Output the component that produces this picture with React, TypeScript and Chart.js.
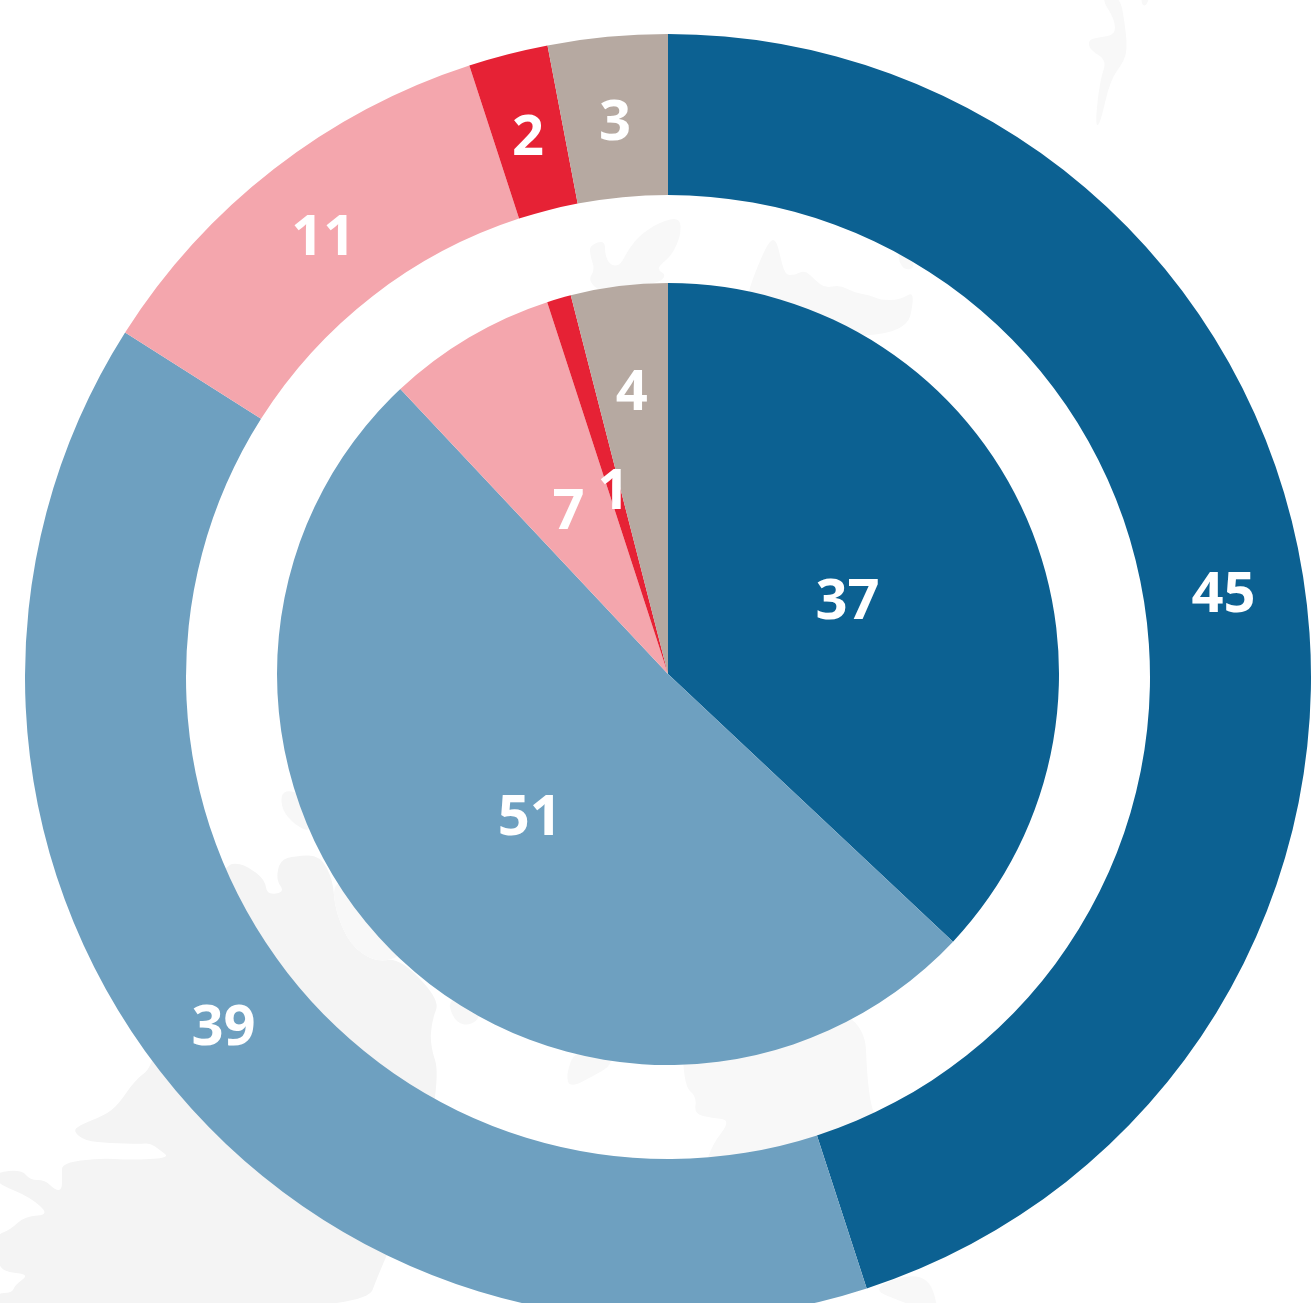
import React, { useEffect, useRef } from "react";
import { Chart, registerables } from "chart.js";

Chart.register(...registerables);

const categories = ["Blue", "Light blue", "Pink", "Red", "Taupe"];
const outerValues = [45, 39, 11, 2, 3];
const innerValues = [37, 51, 7, 1, 4];
const sliceColors = ["#0c6192", "#6ea0c0", "#f4a6ad", "#e62235", "#b6a9a1"];
const innerLabelRadius = [0.5, 0.5, 0.5, 0.5, 0.74];

const OUTER = { left: 25, top: 34, size: 1286, cutout: 482 };
const INNER = { left: 277, top: 283, size: 782 };

// Faint decorative map behind the rings (page coordinates).
const MAP_SHAPES: { fill: string; pts: number[][] }[] = [
  { fill: "#f4f4f4", pts: [[155,1065],[135,1080],[118,1105],[105,1115],[80,1125],[73,1131],[85,1141],[110,1143],[140,1144],[150,1143],[160,1150],[170,1158],[130,1160],[100,1158],[62,1163],[62,1175],[62,1190],[55,1190],[45,1180],[30,1180],[22,1170],[-4,1172],[-4,1183],[30,1197],[50,1215],[25,1216],[10,1230],[-4,1235],[-4,1255],[2,1272],[30,1274],[15,1285],[12,1293],[-4,1293],[-4,1310],[365,1310],[380,1270],[420,1180],[440,1075],[430,1045],[432,1020],[440,1000],[400,958],[375,962],[350,945],[335,910],[333,880],[320,855],[295,856],[280,860],[276,880],[285,892],[267,895],[265,880],[250,868],[238,863],[226,865],[180,930]] },
  { fill: "#f8f8f8", pts: [[333,880],[335,910],[350,945],[375,962],[400,958],[420,930],[370,880]] },
  { fill: "#f7f7f7", pts: [[281,793],[292,790],[310,800],[312,833],[295,825],[282,810]] },
  { fill: "#f7f7f7", pts: [[447,1000],[470,995],[482,1015],[470,1026],[455,1022]] },
  { fill: "#f8f8f8", pts: [[575,1050],[610,1050],[612,1065],[595,1075],[570,1088],[566,1075]] },
  { fill: "#f8f8f8", pts: [[682,1000],[683,1085],[697,1097],[694,1114],[712,1118],[731,1120],[712,1145],[704,1170],[880,1125],[868,1100],[864,1000]] },
  { fill: "#f8f8f8", pts: [[868,1288],[905,1303],[925,1310],[940,1310],[925,1270]] },
  { fill: "#f8f8f8", pts: [[590,245],[605,240],[605,255],[610,265],[620,266],[628,250],[640,235],[660,222],[680,217],[681,235],[672,255],[660,265],[658,270],[666,275],[660,282],[640,285],[632,292],[600,292],[588,280],[595,270],[590,255]] },
  { fill: "#f8f8f8", pts: [[745,300],[760,260],[770,240],[776,240],[780,255],[785,275],[795,275],[805,270],[815,280],[825,288],[840,285],[855,293],[870,295],[880,300],[900,300],[916,290],[905,340],[750,330]] },
  { fill: "#f8f8f8", pts: [[898,250],[910,255],[915,268],[905,270],[899,262]] },
  { fill: "#f8f8f8", pts: [[1100,-4],[1115,20],[1115,35],[1100,37],[1088,40],[1090,50],[1107,60],[1100,80],[1095,125],[1100,125],[1110,80],[1125,60],[1127,45],[1125,25],[1120,-4]] },
  { fill: "#f8f8f8", pts: [[1141,-4],[1150,-4],[1146,6],[1142,5]] },
];

function smoothPath(pts: number[][]): string {
  const n = pts.length;
  const mid = (a: number[], b: number[]) => [(a[0] + b[0]) / 2, (a[1] + b[1]) / 2];
  const s = mid(pts[n - 1], pts[0]);
  let d = `M${s[0]} ${s[1]}`;
  for (let i = 0; i < n; i++) {
    const m = mid(pts[i], pts[(i + 1) % n]);
    d += ` Q${pts[i][0]} ${pts[i][1]} ${m[0]} ${m[1]}`;
  }
  return d + "Z";
}

function labelPlugin(radiusFractions?: number[]) {
  return {
    id: "sliceLabels",
    afterDatasetsDraw(chart: any) {
      const ctx = chart.ctx;
      const meta = chart.getDatasetMeta(0);
      const values = chart.data.datasets[0].data;
      ctx.save();
      ctx.font = 'bold 56px "Open Sans"';
      ctx.fillStyle = "#ffffff";
      ctx.textAlign = "center";
      ctx.textBaseline = "middle";
      meta.data.forEach((arc: any, i: number) => {
        const p = arc.getProps(["x", "y", "startAngle", "endAngle", "innerRadius", "outerRadius"], true);
        const mid = (p.startAngle + p.endAngle) / 2;
        const r = radiusFractions
          ? p.outerRadius * radiusFractions[i]
          : (p.innerRadius + p.outerRadius) / 2;
        ctx.fillText(String(values[i]), p.x + Math.cos(mid) * r, p.y + Math.sin(mid) * r + 7);
      });
      ctx.restore();
    },
  };
}

function baseOptions(extra: object) {
  return {
    responsive: false,
    animation: false as const,
    layout: { padding: 0 },
    plugins: { legend: { display: false }, tooltip: { enabled: false } },
    ...extra,
  };
}

export default function App() {
  const outerRef = useRef<HTMLCanvasElement>(null);
  const innerRef = useRef<HTMLCanvasElement>(null);

  useEffect(() => {
    const outer = new Chart(outerRef.current!, {
      type: "doughnut",
      data: {
        labels: categories,
        datasets: [{ data: outerValues, backgroundColor: sliceColors, borderWidth: 0 }],
      },
      options: baseOptions({ cutout: OUTER.cutout }) as any,
      plugins: [labelPlugin()],
    });
    const inner = new Chart(innerRef.current!, {
      type: "pie",
      data: {
        labels: categories,
        datasets: [{ data: innerValues, backgroundColor: sliceColors, borderWidth: 0 }],
      },
      options: baseOptions({}) as any,
      plugins: [labelPlugin(innerLabelRadius)],
    });
    return () => {
      outer.destroy();
      inner.destroy();
    };
  }, []);

  return (
    <div style={{ position: "absolute", left: 0, top: 0, width: 1315, height: 1303, overflow: "hidden", background: "#fff" }}>
      <svg width={1315} height={1303} style={{ position: "absolute", left: 0, top: 0 }}>
        {MAP_SHAPES.map((s, i) => (
          <path key={i} d={smoothPath(s.pts)} fill={s.fill} />
        ))}
      </svg>
      <canvas ref={outerRef} width={OUTER.size} height={OUTER.size}
        style={{ position: "absolute", left: OUTER.left, top: OUTER.top }} />
      <canvas ref={innerRef} width={INNER.size} height={INNER.size}
        style={{ position: "absolute", left: INNER.left, top: INNER.top }} />
    </div>
  );
}
